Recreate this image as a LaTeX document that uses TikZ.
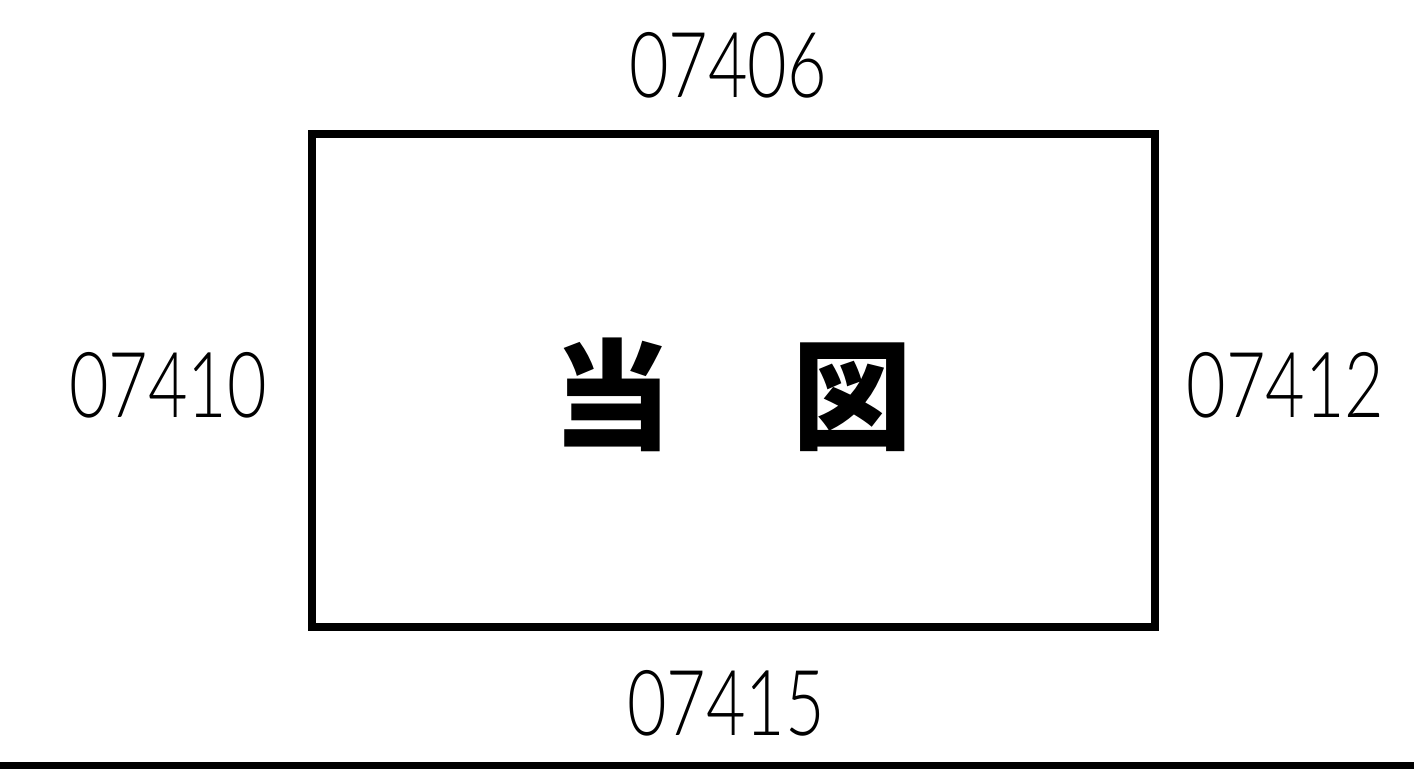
\documentclass[tikz,border=0pt]{standalone}
\usepackage{fontspec}
\setmainfont{Liberation Sans}
\newfontfamily\numfont{Lato Light}
\newfontfamily\cjk{Noto Sans CJK JP}
\begin{document}
\begin{tikzpicture}[x=0.5pt,y=-0.5pt,
  num/.style={inner sep=0pt, font=\numfont\fontsize{45.5pt}{50pt}\selectfont},
  frame/.style={draw=black, line width=4pt}]
\useasboundingbox (0,0) rectangle (1414,769);
\fill[white] (0,0) rectangle (1414,769);
\node[frame, minimum width=421.5pt, minimum height=246.75pt, inner sep=0pt] (box) at (733.5,380.75) {};
\node[inner sep=0pt, font=\cjk\bfseries\fontsize{60pt}{66pt}\selectfont] (label) at (732,395) {当　図};
\node[num] (top) at (728,65.5) {\scalebox{0.75}[1]{07406}};
\node[num] (left) at (168,385.5) {\scalebox{0.75}[1]{07410}};
\node[num] (right) at (1285.5,385.5) {\scalebox{0.75}[1]{07412}};
\node[num] (bottom) at (726,703) {\scalebox{0.75}[1]{07415}};
\fill[black] (0,761.5) rectangle (1414,769);
\end{tikzpicture}
\end{document}
